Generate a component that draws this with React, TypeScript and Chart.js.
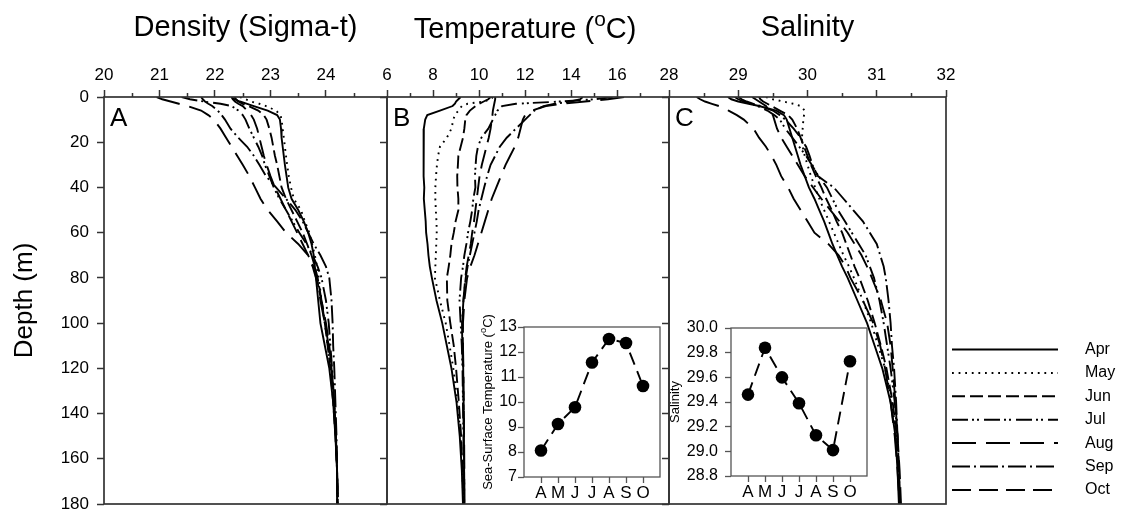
import { useEffect, useRef } from 'react';
import { Chart, registerables } from 'chart.js';

Chart.register(...registerables);

const W = 1123;
const H = 512;
const FONT = '"Liberation Sans", Arial, Helvetica, sans-serif';
const INK = '#000';
const AXIS = '#333';

Chart.defaults.font.family = FONT;

// ---- CTD profiles (depth in m) ----
const MONTHS = ['Apr', 'May', 'Jun', 'Jul', 'Aug', 'Sep', 'Oct'];
const DEPTH = [0, 1, 2, 3, 4, 6, 8, 10, 14, 18, 22, 26, 30, 35, 40, 45, 50, 55, 60, 65, 70, 75, 80, 90, 100, 110, 120, 135, 150, 165, 180];

// Density (sigma-t)
const SIGMA_APR = [22.3, 22.35, 22.45, 22.58, 22.7, 22.95, 23.12, 23.17, 23.19, 23.2, 23.22, 23.24, 23.26, 23.29, 23.32, 23.38, 23.5, 23.6, 23.68, 23.74, 23.78, 23.8, 23.82, 23.86, 23.9, 23.98, 24.06, 24.13, 24.17, 24.2, 24.2];
const SIGMA_MAY = [22.45, 22.55, 22.65, 22.8, 22.92, 23.1, 23.18, 23.2, 23.22, 23.24, 23.26, 23.28, 23.3, 23.33, 23.37, 23.42, 23.55, 23.62, 23.7, 23.75, 23.8, 23.84, 23.87, 23.92, 23.98, 24.03, 24.08, 24.14, 24.18, 24.2, 24.21];
const SIGMA_JUN = [22.35, 22.38, 22.42, 22.5, 22.6, 22.78, 22.88, 22.93, 22.98, 23.02, 23.05, 23.08, 23.12, 23.16, 23.2, 23.28, 23.38, 23.48, 23.58, 23.66, 23.74, 23.8, 23.85, 23.92, 23.98, 24.03, 24.08, 24.13, 24.17, 24.2, 24.21];
const SIGMA_JUL = [21.4, 21.55, 21.8, 22.1, 22.3, 22.42, 22.5, 22.55, 22.62, 22.7, 22.78, 22.85, 22.9, 22.98, 23.06, 23.16, 23.28, 23.4, 23.52, 23.65, 23.76, 23.85, 23.92, 24.0, 24.05, 24.08, 24.11, 24.15, 24.18, 24.2, 24.21];
const SIGMA_AUG = [20.95, 21.05, 21.2, 21.35, 21.5, 21.75, 21.88, 21.98, 22.1, 22.2, 22.3, 22.4, 22.5, 22.62, 22.72, 22.82, 22.95, 23.12, 23.28, 23.5, 23.68, 23.78, 23.84, 23.9, 23.98, 24.05, 24.1, 24.15, 24.18, 24.2, 24.21];
const SIGMA_SEP = [21.75, 21.78, 21.82, 21.88, 21.95, 22.05, 22.12, 22.18, 22.28, 22.42, 22.58, 22.7, 22.8, 22.92, 23.1, 23.28, 23.45, 23.58, 23.68, 23.78, 23.9, 24.0, 24.06, 24.1, 24.12, 24.13, 24.15, 24.17, 24.19, 24.2, 24.21];
const SIGMA_OCT = [22.3, 22.32, 22.36, 22.42, 22.5, 22.58, 22.65, 22.7, 22.76, 22.8, 22.84, 22.88, 22.93, 23.0, 23.08, 23.18, 23.28, 23.38, 23.48, 23.58, 23.68, 23.76, 23.82, 23.92, 24.0, 24.06, 24.1, 24.14, 24.18, 24.2, 24.22];

// Temperature (deg C)
const TEMP_APR = [9.2, 9.1, 9.0, 8.95, 8.85, 8.3, 7.75, 7.66, 7.6, 7.6, 7.58, 7.6, 7.57, 7.6, 7.62, 7.6, 7.64, 7.68, 7.7, 7.76, 7.8, 7.86, 7.95, 8.15, 8.4, 8.6, 8.8, 9.02, 9.16, 9.25, 9.3];
const TEMP_MAY = [10.6, 10.5, 10.2, 9.5, 9.25, 9.1, 8.95, 8.88, 8.8, 8.6, 8.3, 8.22, 8.17, 8.13, 8.1, 8.1, 8.12, 8.15, 8.16, 8.14, 8.12, 8.1, 8.08, 8.3, 8.55, 8.72, 8.88, 9.06, 9.2, 9.27, 9.32];
const TEMP_JUN = [10.5, 10.4, 10.2, 10.0, 9.85, 9.6, 9.45, 9.4, 9.36, 9.3, 9.2, 9.1, 9.08, 9.05, 9.06, 9.1, 9.1, 8.98, 8.9, 8.8, 8.75, 8.68, 8.6, 8.62, 8.75, 8.9, 9.0, 9.12, 9.22, 9.28, 9.32];
const TEMP_JUL = [15.8, 15.0, 13.5, 11.6, 11.0, 10.8, 10.7, 10.6, 10.4, 10.1, 9.95, 9.88, 9.85, 9.82, 9.84, 9.75, 9.7, 9.62, 9.52, 9.45, 9.36, 9.3, 9.22, 9.15, 9.2, 9.25, 9.28, 9.3, 9.32, 9.34, 9.35];
const TEMP_AUG = [16.3, 15.6, 14.6, 13.6, 12.9, 12.3, 12.0, 11.9, 11.8, 11.7, 11.55, 11.35, 11.15, 10.95, 10.75, 10.55, 10.4, 10.25, 10.1, 9.95, 9.8, 9.62, 9.48, 9.36, 9.3, 9.3, 9.32, 9.33, 9.35, 9.36, 9.36];
const TEMP_SEP = [14.5, 14.4, 14.0, 13.3, 12.8, 12.4, 12.2, 12.0, 11.6, 11.2, 10.9, 10.7, 10.5, 10.35, 10.22, 10.1, 9.98, 9.9, 9.8, 9.7, 9.6, 9.5, 9.42, 9.32, 9.26, 9.27, 9.3, 9.32, 9.34, 9.35, 9.36];
const TEMP_OCT = [10.7, 10.7, 10.68, 10.66, 10.64, 10.6, 10.58, 10.55, 10.5, 10.42, 10.32, 10.22, 10.12, 10.02, 9.96, 9.9, 9.84, 9.78, 9.7, 9.64, 9.55, 9.46, 9.4, 9.32, 9.28, 9.3, 9.31, 9.33, 9.34, 9.35, 9.35];

// Salinity
const SAL_APR = [28.85, 28.9, 29.0, 29.15, 29.3, 29.55, 29.66, 29.7, 29.74, 29.78, 29.82, 29.86, 29.9, 29.96, 30.02, 30.1, 30.17, 30.24, 30.3, 30.36, 30.43, 30.5, 30.58, 30.72, 30.86, 30.97, 31.08, 31.2, 31.27, 31.3, 31.32];
const SAL_MAY = [29.4, 29.5, 29.65, 29.8, 29.9, 29.96, 29.95, 29.94, 29.93, 29.92, 29.93, 29.96, 30.0, 30.05, 30.11, 30.17, 30.24, 30.31, 30.38, 30.45, 30.52, 30.6, 30.67, 30.8, 30.92, 31.02, 31.12, 31.22, 31.28, 31.31, 31.33];
const SAL_JUN = [29.3, 29.32, 29.36, 29.42, 29.48, 29.6, 29.72, 29.78, 29.85, 29.9, 29.95, 30.0, 30.05, 30.12, 30.2, 30.27, 30.35, 30.42, 30.5, 30.56, 30.62, 30.68, 30.75, 30.87, 30.97, 31.06, 31.14, 31.23, 31.29, 31.32, 31.34];
const SAL_JUL = [28.95, 29.0, 29.08, 29.18, 29.28, 29.42, 29.52, 29.6, 29.68, 29.78, 29.88, 29.98, 30.06, 30.16, 30.28, 30.36, 30.44, 30.54, 30.64, 30.74, 30.84, 30.9, 30.96, 31.04, 31.1, 31.15, 31.2, 31.26, 31.3, 31.32, 31.33];
const SAL_AUG = [28.4, 28.45, 28.52, 28.62, 28.72, 28.86, 28.98, 29.08, 29.22, 29.3, 29.4, 29.48, 29.55, 29.62, 29.72, 29.8, 29.9, 30.0, 30.1, 30.3, 30.45, 30.55, 30.62, 30.8, 30.95, 31.05, 31.12, 31.2, 31.26, 31.3, 31.33];
const SAL_SEP = [29.0, 29.05, 29.12, 29.22, 29.32, 29.5, 29.6, 29.68, 29.8, 29.9, 29.98, 30.03, 30.07, 30.15, 30.38, 30.52, 30.66, 30.8, 30.9, 31.0, 31.05, 31.1, 31.13, 31.17, 31.2, 31.22, 31.25, 31.28, 31.3, 31.32, 31.33];
const SAL_OCT = [29.2, 29.25, 29.3, 29.35, 29.4, 29.45, 29.5, 29.52, 29.56, 29.62, 29.7, 29.78, 29.86, 29.96, 30.08, 30.2, 30.33, 30.46, 30.58, 30.68, 30.78, 30.86, 30.93, 31.06, 31.15, 31.2, 31.23, 31.27, 31.3, 31.33, 31.35];

// Monthly surface values
const INSET_MONTHS = ['A', 'M', 'J', 'J', 'A', 'S', 'O'];
const SST = [8.06, 9.12, 9.79, 11.58, 12.52, 12.36, 10.64];
const SSS = [29.46, 29.84, 29.6, 29.39, 29.13, 29.01, 29.73];

// Axis ticks
const DEPTH_TICKS = [0, 20, 40, 60, 80, 100, 120, 140, 160, 180];
const SIGMA_TICKS = [20, 21, 22, 23, 24];
const SIGMA_MINOR = [20.5, 21.5, 22.5, 23.5, 24.5];
const TEMP_TICKS = [6, 8, 10, 12, 14, 16];
const TEMP_MINOR = [7, 9, 11, 13, 15, 17];
const SAL_TICKS = [28, 29, 30, 31, 32];
const SAL_MINOR = [28.5, 29.5, 30.5, 31.5];
const SST_TICKS = [7, 8, 9, 10, 11, 12, 13];
const SSS_TICKS = [28.8, 29.0, 29.2, 29.4, 29.6, 29.8, 30.0];

// Line style for each month
const MONTH_DASH: number[][] = [[], [1.8, 4.8], [13, 5], [16, 4, 2, 3, 2, 5], [24, 10], [18, 4, 2, 4], [19, 8]];

// Frame geometry
const PLOT_TOP = 97;
const PLOT_BOTTOM = 504;

type Seg = { text: string; sup?: boolean };

function drawRichText(ctx: CanvasRenderingContext2D, segs: Seg[], size: number, cx: number, cy: number, rot: number) {
  const supSize = size * 0.72;
  ctx.save();
  ctx.translate(cx, cy);
  ctx.rotate(rot);
  ctx.fillStyle = INK;
  ctx.textBaseline = 'alphabetic';
  ctx.textAlign = 'left';
  const widths = segs.map((s) => {
    ctx.font = `${s.sup ? supSize : size}px ${FONT}`;
    return ctx.measureText(s.text).width;
  });
  const total = widths.reduce((a, b) => a + b, 0);
  let x = -total / 2;
  const base = size * 0.358;
  segs.forEach((s, i) => {
    ctx.font = `${s.sup ? supSize : size}px ${FONT}`;
    ctx.fillText(s.text, x, s.sup ? base - size * 0.42 : base);
    x += widths[i];
  });
  ctx.restore();
}

const framePlugin = (color: string, width: number) => ({
  id: 'frame',
  afterDraw(chart: any) {
    const { ctx, chartArea: a } = chart;
    ctx.save();
    ctx.strokeStyle = color;
    ctx.lineWidth = width;
    ctx.strokeRect(a.left, a.top, a.right - a.left, a.bottom - a.top);
    ctx.restore();
  },
});

const whiteAreaPlugin = {
  id: 'whiteArea',
  beforeDraw(chart: any) {
    const { ctx, chartArea: a } = chart;
    ctx.save();
    ctx.fillStyle = '#fff';
    ctx.fillRect(a.left, a.top, a.right - a.left, a.bottom - a.top);
    ctx.restore();
  },
};

const minorTicksPlugin = (values: number[], len: number) => ({
  id: 'minorTicks',
  afterDraw(chart: any) {
    const { ctx, chartArea } = chart;
    const s = chart.scales.x;
    ctx.save();
    ctx.strokeStyle = AXIS;
    ctx.lineWidth = 1.5;
    ctx.beginPath();
    values.forEach((v) => {
      const px = Math.round(s.getPixelForValue(v)) + 0.5;
      ctx.moveTo(px, chartArea.top);
      ctx.lineTo(px, chartArea.top - len);
    });
    ctx.stroke();
    ctx.restore();
  },
});

const letterPlugin = (letter: string) => ({
  id: 'panelLetter',
  afterDraw(chart: any) {
    const { ctx, chartArea } = chart;
    ctx.save();
    ctx.fillStyle = INK;
    ctx.font = `26px ${FONT}`;
    ctx.textBaseline = 'alphabetic';
    ctx.textAlign = 'left';
    ctx.fillText(letter, chartArea.left + 6, chartArea.top + 29);
    ctx.restore();
  },
});

const richTitlePlugin = (segs: Seg[], size: number, where: (chart: any) => { x: number; y: number; rot: number }) => ({
  id: 'richTitle',
  afterDraw(chart: any) {
    const p = where(chart);
    drawRichText(chart.ctx, segs, size, p.x, p.y, p.rot);
  },
});

const legendPlugin = {
  id: 'monthLegend',
  afterDraw(chart: any) {
    const { ctx } = chart;
    ctx.save();
    chart.data.datasets.forEach((ds: any, i: number) => {
      const y = 349.5 + i * 23.4;
      ctx.strokeStyle = INK;
      ctx.lineWidth = 2;
      ctx.setLineDash(ds.borderDash || []);
      ctx.beginPath();
      ctx.moveTo(952, y);
      ctx.lineTo(1058, y);
      ctx.stroke();
      ctx.setLineDash([]);
      ctx.fillStyle = INK;
      ctx.font = `16px ${FONT}`;
      ctx.textBaseline = 'middle';
      ctx.textAlign = 'left';
      ctx.fillText(ds.label, 1085, y);
    });
    ctx.restore();
  },
};

type ProfileOpts = {
  values: number[][];
  xMin: number;
  xMax: number;
  majors: number[];
  minors: number[];
  left: number;
  right: number;
  letter: string;
  showDepth: boolean;
  title?: string;
  richTitle?: Seg[];
  legend?: boolean;
};

function profileConfig(p: ProfileOpts): any {
  const yWidth = p.showDepth ? p.left : 10;
  const plugins: any[] = [minorTicksPlugin(p.minors, 4), framePlugin(AXIS, 1.7), letterPlugin(p.letter)];
  if (p.richTitle) {
    plugins.push(
      richTitlePlugin(p.richTitle, 29, (chart) => ({
        x: (chart.chartArea.left + chart.chartArea.right) / 2 - 3,
        y: 27.5,
        rot: 0,
      }))
    );
  }
  if (p.legend) plugins.push(legendPlugin);
  return {
    type: 'scatter',
    data: {
      datasets: MONTHS.map((m, i) => ({
        label: m,
        data: DEPTH.map((d, k) => ({ x: p.values[i][k], y: d })),
        showLine: true,
        borderColor: INK,
        borderWidth: 1.9,
        borderDash: MONTH_DASH[i],
        pointRadius: 0,
        pointHoverRadius: 0,
        tension: 0,
        fill: false,
      })),
    },
    options: {
      responsive: false,
      animation: false,
      events: [],
      layout: { padding: { left: p.left - yWidth, right: W - p.right, top: 0, bottom: H - PLOT_BOTTOM } },
      plugins: { legend: { display: false }, tooltip: { enabled: false }, title: { display: false } },
      scales: {
        x: {
          type: 'linear',
          position: 'top',
          min: p.xMin,
          max: p.xMax,
          afterBuildTicks: (s: any) => {
            s.ticks = p.majors.map((v) => ({ value: v }));
          },
          ticks: { font: { size: 17 }, color: INK, padding: 4, maxRotation: 0, autoSkip: false },
          grid: { drawOnChartArea: false, tickLength: 7, color: AXIS, tickColor: AXIS, tickWidth: 1.5 },
          border: { display: false },
          title: p.title
            ? { display: true, text: p.title, font: { size: 29 }, color: INK, padding: { top: 10.1, bottom: 0 } }
            : { display: false },
          afterFit: (s: any) => {
            s.height = PLOT_TOP;
            s.paddingLeft = 0;
            s.paddingRight = 0;
          },
        },
        y: {
          type: 'linear',
          position: 'left',
          reverse: true,
          min: 0,
          max: 180,
          afterBuildTicks: (s: any) => {
            s.ticks = DEPTH_TICKS.map((v) => ({ value: v }));
          },
          ticks: { display: p.showDepth, font: { size: 17 }, color: INK, padding: 8 },
          grid: { drawOnChartArea: false, tickLength: 7, color: AXIS, tickColor: AXIS, tickWidth: 1.5 },
          border: { display: false },
          title: p.showDepth
            ? { display: true, text: 'Depth (m)', font: { size: 26 }, color: INK, padding: { top: 9.5, bottom: 0 } }
            : { display: false },
          afterFit: (s: any) => {
            s.width = yWidth;
            s.paddingTop = 0;
            s.paddingBottom = 0;
          },
        },
      },
    },
    plugins,
  };
}

type InsetOpts = {
  values: number[];
  yMin: number;
  yMax: number;
  yTicks: number[];
  decimals: number;
  area: { left: number; top: number; right: number; bottom: number };
  yAxisWidth: number;
  labelPad: number;
  title?: string;
  richTitle?: Seg[];
};

function insetConfig(p: InsetOpts): any {
  const plugins: any[] = [whiteAreaPlugin, framePlugin('#555', 1.3)];
  if (p.richTitle) {
    plugins.push(
      richTitlePlugin(p.richTitle, 13, (chart) => ({
        x: 487,
        y: (chart.chartArea.top + chart.chartArea.bottom) / 2,
        rot: -Math.PI / 2,
      }))
    );
  }
  return {
    type: 'scatter',
    data: {
      datasets: [
        {
          data: p.values.map((v, i) => ({ x: i, y: v })),
          showLine: true,
          borderColor: INK,
          borderWidth: 1.9,
          borderDash: [13, 7],
          pointRadius: 6.3,
          pointHoverRadius: 6.3,
          pointBackgroundColor: INK,
          pointBorderColor: INK,
          pointBorderWidth: 0,
          tension: 0,
          fill: false,
        },
      ],
    },
    options: {
      responsive: false,
      animation: false,
      events: [],
      layout: {
        padding: {
          left: p.area.left - p.yAxisWidth,
          top: p.area.top,
          right: W - p.area.right,
          bottom: H - p.area.bottom - 25,
        },
      },
      plugins: { legend: { display: false }, tooltip: { enabled: false }, title: { display: false } },
      scales: {
        x: {
          type: 'linear',
          position: 'bottom',
          min: -1,
          max: 7,
          afterBuildTicks: (s: any) => {
            s.ticks = INSET_MONTHS.map((_, i) => ({ value: i }));
          },
          ticks: {
            font: { size: 17 },
            color: INK,
            padding: 0,
            maxRotation: 0,
            autoSkip: false,
            callback: (v: any) => INSET_MONTHS[Math.round(Number(v))],
          },
          grid: { drawOnChartArea: false, tickLength: 6, color: '#555', tickColor: '#555', tickWidth: 1.3 },
          border: { display: false },
          afterFit: (s: any) => {
            s.height = 25;
            s.paddingLeft = 0;
            s.paddingRight = 0;
          },
        },
        y: {
          type: 'linear',
          position: 'left',
          min: p.yMin,
          max: p.yMax,
          afterBuildTicks: (s: any) => {
            s.ticks = p.yTicks.map((v) => ({ value: v }));
          },
          ticks: {
            font: { size: 16 },
            color: INK,
            padding: p.labelPad,
            callback: (v: any) => Number(v).toFixed(p.decimals),
          },
          grid: { drawOnChartArea: false, tickLength: 6, color: '#555', tickColor: '#555', tickWidth: 1.3 },
          border: { display: false },
          title: p.title
            ? { display: true, text: p.title, font: { size: 13 }, color: INK, padding: { top: 1.5, bottom: 0 } }
            : { display: false },
          afterFit: (s: any) => {
            s.width = p.yAxisWidth;
            s.paddingTop = 0;
            s.paddingBottom = 0;
          },
        },
      },
    },
    plugins,
  };
}

function ChartLayer({ make }: { make: () => any }) {
  const ref = useRef<HTMLCanvasElement>(null);
  useEffect(() => {
    const chart = new Chart(ref.current as HTMLCanvasElement, make());
    return () => chart.destroy();
  }, []);
  return <canvas ref={ref} width={W} height={H} style={{ position: 'absolute', left: 0, top: 0 }} />;
}

const densityChart = () =>
  profileConfig({
    values: [SIGMA_APR, SIGMA_MAY, SIGMA_JUN, SIGMA_JUL, SIGMA_AUG, SIGMA_SEP, SIGMA_OCT],
    xMin: 20,
    xMax: 25.1,
    majors: SIGMA_TICKS,
    minors: SIGMA_MINOR,
    left: 104,
    right: 387,
    letter: 'A',
    showDepth: true,
    title: 'Density (Sigma-t)',
  });

const temperatureChart = () =>
  profileConfig({
    values: [TEMP_APR, TEMP_MAY, TEMP_JUN, TEMP_JUL, TEMP_AUG, TEMP_SEP, TEMP_OCT],
    xMin: 6,
    xMax: 18.25,
    majors: TEMP_TICKS,
    minors: TEMP_MINOR,
    left: 387,
    right: 669,
    letter: 'B',
    showDepth: false,
    richTitle: [{ text: 'Temperature (' }, { text: 'o', sup: true }, { text: 'C)' }],
  });

const salinityChart = () =>
  profileConfig({
    values: [SAL_APR, SAL_MAY, SAL_JUN, SAL_JUL, SAL_AUG, SAL_SEP, SAL_OCT],
    xMin: 28,
    xMax: 32,
    majors: SAL_TICKS,
    minors: SAL_MINOR,
    left: 669,
    right: 946,
    letter: 'C',
    showDepth: false,
    title: 'Salinity',
    legend: true,
  });

const sstChart = () =>
  insetConfig({
    values: SST,
    yMin: 7,
    yMax: 13,
    yTicks: SST_TICKS,
    decimals: 0,
    area: { left: 524, top: 327, right: 660, bottom: 477 },
    yAxisWidth: 40,
    labelPad: 1,
    richTitle: [{ text: 'Sea-Surface Temperature (' }, { text: 'o', sup: true }, { text: 'C)' }],
  });

const sssChart = () =>
  insetConfig({
    values: SSS,
    yMin: 28.8,
    yMax: 30.0,
    yTicks: SSS_TICKS,
    decimals: 1,
    area: { left: 731, top: 328, right: 867, bottom: 476 },
    yAxisWidth: 65,
    labelPad: 7,
    title: 'Salinity',
  });

export default function App() {
  return (
    <div style={{ position: 'fixed', left: 0, top: 0, width: W, height: H, background: '#fff', overflow: 'hidden' }}>
      <ChartLayer make={densityChart} />
      <ChartLayer make={temperatureChart} />
      <ChartLayer make={salinityChart} />
      <ChartLayer make={sstChart} />
      <ChartLayer make={sssChart} />
    </div>
  );
}
